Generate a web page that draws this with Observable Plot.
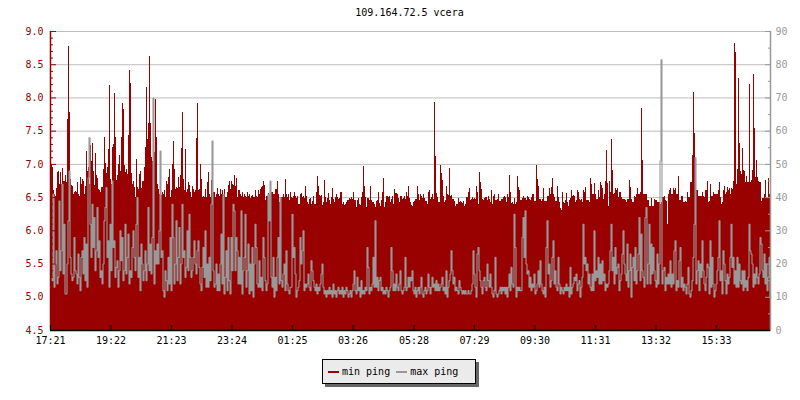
<!DOCTYPE html>
<html>
<head>
<meta charset="utf-8">
<script src="https://cdn.jsdelivr.net/npm/d3@7"></script>
<script src="https://cdn.jsdelivr.net/npm/@observablehq/plot@0.6"></script>
<style>
html,body{margin:0;padding:0;background:#fff;overflow:hidden}
body{width:800px;height:400px;font-family:"DejaVu Sans Mono",monospace;font-size:10px;color:#000}
#title{height:24px;line-height:26px;text-align:center;padding-left:19px;box-sizing:border-box}
#chart svg{display:block}
#legend{position:relative;margin:9px 0 0 322px;width:152px;height:23px;background:#ebebeb;border:1px solid #000;box-shadow:3px 3px 0 #666;display:flex;align-items:center;white-space:pre;box-sizing:content-box}
#legend i{display:inline-block;width:11px;height:2px;margin:0 3px 0 4px}
#legend i:first-child{margin-left:5px}
#legend span{margin-right:2px}
</style>
</head>
<body>
<div id="title"></div>
<div id="chart"></div>
<div id="legend"></div>
<script>
const titleText = "109.164.72.5 vcera";
const seriesNames = ["min ping", "max ping"];
const timeLabels = ["17:21","19:22","21:23","23:24","01:25","03:26","05:28","07:29","09:30","11:31","13:32","15:33"];
const timeMinutes = [0,121,242,363,484,605,727,848,969,1090,1211,1332];
const leftMajor = [4.5,5,5.5,6,6.5,7,7.5,8,8.5,9];
const leftMinor = [4.6,4.7,4.8,4.9,5.1,5.2,5.3,5.4,5.6,5.7,5.8,5.9,6.1,6.2,6.3,6.4,6.6,6.7,6.8,6.9,7.1,7.2,7.3,7.4,7.6,7.7,7.8,7.9,8.1,8.2,8.3,8.4,8.6,8.7,8.8,8.9];
const rightMajor = [0,10,20,30,40,50,60,70,80,90];
const rightMinor = [5,15,25,35,45,55,65,75,85];

const min1 = [7.1,7.0,6.95,6.6,6.55,6.52,6.63,6.88,6.89,6.7,6.88,6.7,6.94,6.75,6.74,6.83,6.72,7.67,8.78,7.78,
6.77,6.68,6.67,6.55,6.58,6.59,6.58,6.73,6.55,6.52,6.8,6.7,6.78,6.75,6.55,6.66,7.19,6.9,6.95,6.7,
7.28,7.05,7.31,6.9,6.68,7.16,6.83,6.79,6.62,6.6,6.58,6.65,6.65,6.92,7.4,7.01,6.86,6.95,7.23,8.18,
6.78,6.7,7.25,7.3,8.06,7.4,6.76,6.83,7.0,7.13,6.9,7.4,7.91,7.82,6.98,6.88,6.92,6.85,7.43,8.41,
8.21,6.86,6.7,6.74,6.65,6.5,7.07,6.65,6.62,6.85,6.89,6.63,6.74,6.74,6.95,7.25,8.15,7.37,7.62,8.62,
7.61,7.1,7.05,6.82,7.18,7.97,7.41,6.7,6.62,6.55,6.57,6.53,6.57,6.55,6.6,6.5,6.74,6.7,6.8,6.92];
const min2 = [6.5,6.6,7.0,7.34,6.92,6.62,6.65,6.63,6.8,6.65,6.83,7.24,7.78,6.78,6.6,7.22,6.58,6.62,6.72,6.68,
6.58,6.5,6.66,6.62,6.58,6.6,7.39,7.91,6.6,6.62,7.0,6.78,6.5,6.52,6.5,6.62,6.5,6.73,6.88,6.55,
6.5,6.76,6.65,6.58,6.58,6.5,6.55,6.64,6.55,6.52,6.62,6.55,6.6,6.55,6.62,6.5,6.5,6.58,6.68,6.74,
6.62,6.75,6.7,6.68,6.83,6.66,6.79,6.5,6.6,6.6,6.54,6.52,6.58,6.5,6.55,6.52,6.5,6.58,6.52,6.55,
6.48,6.52,6.53,6.5,6.5,6.6,6.52,6.5,6.6,6.55,6.62,6.65,6.67,6.75,6.68,6.45,6.52,6.52,6.56,6.5,
6.62,6.58,6.58,6.55,6.55,6.62,6.62,6.75,6.55,6.42,6.47,6.5,6.5,6.55,6.5,6.77,6.55,6.5,6.55,6.45];
const min3 = [6.58,6.5,6.49,6.52,6.58,6.52,6.48,6.52,6.4,6.4,6.55,6.56,6.5,6.52,6.49,6.67,6.51,6.42,6.4,6.47,
6.49,6.39,6.44,6.52,6.4,6.4,6.58,6.82,6.66,6.53,6.52,6.53,6.38,6.42,6.76,6.5,6.42,6.48,6.56,6.45,
6.4,6.5,6.63,6.47,6.42,6.5,6.55,6.5,6.47,6.48,6.58,6.57,6.4,6.43,6.38,6.4,6.42,6.45,6.46,6.49,
6.47,6.5,6.47,6.58,6.46,6.45,6.35,6.46,6.48,6.4,6.38,6.5,6.58,6.97,6.66,6.5,6.35,6.48,6.49,6.45,
6.66,6.45,6.43,6.42,6.4,6.35,6.44,6.46,6.58,6.41,6.36,6.45,6.58,6.79,6.35,6.42,6.52,6.51,6.5,6.52,
6.43,6.47,6.51,6.4,6.62,6.56,6.56,6.55,6.48,6.42,6.52,6.51,6.47,6.49,6.52,6.47,6.57,6.52,6.67,6.48];
const min4 = [6.42,6.38,6.36,6.42,6.44,6.47,6.47,6.67,6.55,6.45,6.55,6.51,6.48,6.55,6.48,6.44,6.44,6.4,6.58,6.61,
6.47,6.5,6.55,6.47,7.93,7.12,6.56,6.5,6.42,6.42,6.99,6.86,6.76,6.51,6.42,6.45,6.67,6.55,6.53,6.94,
6.52,6.53,6.47,6.47,6.44,6.36,6.4,6.4,6.49,6.42,6.44,6.42,6.41,6.44,6.37,6.4,6.5,6.5,6.58,6.64,
6.45,6.47,6.5,6.47,6.49,6.47,6.67,6.57,6.4,6.88,6.72,6.62,6.47,6.45,6.48,6.5,6.5,6.45,6.52,6.47,
6.42,6.6,6.4,6.52,6.55,6.45,6.45,6.47,6.55,6.44,6.44,6.47,6.47,6.5,6.51,6.5,6.42,6.55,6.5,6.84,
6.58,6.41,6.42,6.4,6.48,6.4,6.42,6.82,6.65,6.6,6.45,6.45,6.49,6.52,6.49,6.48,6.45,6.52,6.5,6.47];
const min5 = [6.45,6.5,6.54,6.54,6.44,6.44,6.99,6.78,6.67,6.47,6.47,6.44,6.47,6.64,6.44,6.44,6.44,6.51,6.51,6.63,
6.55,6.65,6.79,6.55,6.5,6.44,6.44,6.67,6.5,6.42,6.33,6.31,6.58,6.43,6.41,6.45,6.56,6.42,6.37,6.45,
6.49,6.61,6.52,6.53,6.52,6.42,6.45,6.6,6.57,6.47,6.45,6.47,6.42,6.6,6.58,6.65,6.45,6.45,6.45,6.42,
6.79,6.69,6.55,6.54,6.71,6.55,6.47,6.47,6.6,6.5,6.73,6.68,6.64,6.47,6.54,6.75,7.21,6.71,6.37,6.74,
6.58,7.38,6.91,6.55,6.56,6.64,6.6,6.64,6.5,6.58,6.58,6.5,6.47,6.47,6.47,6.45,6.42,6.47,6.47,6.76,
6.65,6.47,6.42,6.42,6.52,6.5,6.55,6.64,6.55,6.54,6.58,7.84,7.06,6.55,6.55,6.55,6.55,6.45,6.45,6.37];
const min6 = [6.37,6.48,6.37,6.37,6.47,6.45,6.45,6.42,6.42,6.42,6.4,6.42,6.5,6.5,6.52,6.46,6.44,6.1,6.55,6.6,
6.64,6.55,6.55,6.64,6.6,6.64,6.55,6.55,6.82,6.45,6.45,6.51,6.51,6.42,6.42,6.44,6.42,6.57,6.5,6.5,
6.73,6.73,7.14,8.08,7.46,6.92,6.61,6.61,6.51,6.51,6.52,6.52,6.58,6.52,6.5,6.61,6.61,6.75,6.42,6.44,
6.69,6.52,6.52,6.58,6.55,6.55,6.55,6.55,6.6,6.72,6.5,6.4,6.42,6.6,6.66,6.55,6.58,6.65,6.61,6.63,
6.54,6.64,6.62,6.75,8.82,8.69,6.7,6.92,8.29,7.32,6.9,6.85,7.24,6.91,6.9,6.72,6.82,6.72,6.72,8.2,
6.72,6.76,6.91,8.35,7.54,6.8,7.06,6.8,6.75,6.72,6.72,6.44,6.49,6.49,6.55,6.76,6.48,6.48,6.79,6.55];

const max1 = [16,15,41,13,20,24,14,16,39,18,24,44,17,32,11,11,20,33,48,22,
17,15,16,28,18,17,14,23,16,12,22,24,17,28,15,26,13,46,58,32,
22,38,25,34,18,24,37,22,27,16,18,14,20,33,37,43,22,27,13,32,
18,45,25,27,16,19,21,13,18,30,21,28,15,18,32,17,22,29,14,18,
16,25,30,22,18,32,40,16,22,12,26,20,15,18,24,15,20,37,18,26,
17,28,70,14,24,20,26,20,30,54,22,24,12,10,18,15,12,22,14,28];
const max2 = [12,38,28,14,20,33,15,22,31,14,20,38,22,24,16,19,30,18,35,22,
16,18,22,27,20,17,24,27,19,14,12,19,25,16,30,13,20,13,22,15,
38,57,18,13,14,20,12,17,12,20,29,14,41,11,16,24,12,28,15,11,
28,18,38,36,18,28,24,14,22,14,36,11,18,22,35,13,18,26,11,20,
12,25,10,20,32,25,14,13,21,13,16,12,28,22,15,12,14,41,33,45,
16,13,22,10,16,12,22,28,14,40,15,13,17,20,12,24,14,12,11,13];
const max3 = [13,35,22,25,17,10,12,13,15,28,20,24,30,12,14,13,14,17,13,12,
21,18,15,13,12,14,11,13,12,14,17,20,13,11,12,10,12,11,13,11,
12,10,14,11,12,10,12,13,11,12,11,13,10,12,11,13,12,10,11,12,
10,12,14,18,12,11,16,12,13,10,15,11,12,11,13,12,25,19,11,13,
12,14,22,13,33,13,16,12,15,16,12,13,11,12,11,13,12,10,12,13,
25,18,12,14,12,17,13,12,14,18,12,11,12,13,22,12,13,16,13,16];
const max4 = [15,18,12,11,13,10,12,13,11,13,16,11,10,12,13,11,12,17,13,11,
13,16,13,14,12,15,12,14,12,13,14,16,12,13,11,18,10,13,15,17,
24,18,14,16,12,13,12,11,15,13,12,11,12,11,12,11,11,12,11,11,
12,14,24,17,13,10,23,25,18,15,13,11,15,16,13,12,20,15,13,17,
13,11,10,12,22,11,10,11,12,13,11,13,12,13,11,13,10,13,17,12,
19,14,13,35,25,10,13,12,13,12,12,28,34,22,36,20,17,18,13,16];
const max5 = [12,14,13,17,11,12,14,18,13,21,14,12,11,13,10,25,33,17,20,13,
15,22,27,14,18,13,12,22,14,11,13,12,11,13,12,14,12,13,10,19,
11,13,14,16,15,17,12,14,15,10,13,16,32,20,22,18,20,14,17,13,
12,17,12,30,15,18,16,22,14,20,14,21,15,17,12,14,13,14,18,24,
32,18,22,14,25,17,19,20,12,15,17,23,30,20,17,15,26,13,18,23,
10,19,22,15,25,14,18,23,34,15,29,18,16,13,34,37,14,20,32,14];
const max6 = [26,17,25,18,15,13,23,14,20,51,81.5,14,18,19,12,16,14,17,14,21,
13,17,14,24,27,12,15,13,21,25,13,16,12,14,13,11,14,19,11,10,
12,15,22,32,52,14,18,21,12,20,16,27,18,14,12,16,20,19,11,27,
13,22,14,10,12,14,18,22,33,15,18,11,24,20,15,11,17,14,16,22,
32,19,22,14,18,13,22,13,20,15,14,18,12,18,13,15,12,16,32,24,
23,20,13,17,14,19,16,14,17,28,26,18,16,23,14,20,12,16,22,10];

const leftDomain = [4.5, 9];
const toLeft = v => 4.5 + v / 20;
const fromLeft = y => Math.round((y - 4.5) * 20);
const span = 240;
const build = arrays => {
  const out = [];
  arrays.forEach((a, s) => a.forEach((v, i) => out.push({t: (s + i / a.length) * span, v})));
  const last = arrays[arrays.length - 1];
  out.push({t: arrays.length * span, v: last[last.length - 1]});
  return out;
};
const minData = build([min1, min2, min3, min4, min5, min6]);
const maxData = build([max1, max2, max3, max4, max5, max6]);

const RED = "#990000", GREY = "#999999", GRID = "#bdbdbd";

document.getElementById("title").textContent = titleText;

const plot = Plot.plot({
  width: 800, height: 326,
  marginLeft: 50, marginRight: 30, marginTop: 7, marginBottom: 20,
  style: {fontFamily: '"DejaVu Sans Mono", monospace', fontSize: "10px", background: "transparent"},
  x: {domain: [0, 1440], axis: null},
  y: {domain: leftDomain, axis: null},
  marks: [
    Plot.ruleY(leftMajor, {stroke: GRID, strokeWidth: 1}),
    Plot.areaY(minData, {x: "t", y1: () => leftDomain[0], y2: "v", curve: "step-after", fill: RED, shapeRendering: "crispEdges"}),
    Plot.line(maxData, {x: "t", y: d => toLeft(d.v), curve: "step-after", dx: 0.5, stroke: GREY, strokeWidth: 1.1, strokeLinejoin: "miter"}),
    Plot.ruleX([0], {stroke: RED, strokeWidth: 1.5}),
    Plot.ruleX([1440], {stroke: GREY, strokeWidth: 1.5}),
    Plot.axisY(leftMajor, {anchor: "left", tickSize: -6, tickPadding: 13, stroke: RED, color: RED, fill: RED, tickFormat: d3.format(".1f"), label: null}),
    Plot.axisY(leftMinor, {anchor: "left", tickSize: -3, stroke: RED, tickFormat: null, text: null, label: null}),
    Plot.axisY(rightMajor.map(toLeft), {anchor: "right", tickSize: -6, tickPadding: 11, stroke: GREY, fill: GREY, tickFormat: fromLeft, label: null}),
    Plot.axisY(rightMinor.map(toLeft), {anchor: "right", tickSize: -3, stroke: GREY, tickFormat: null, text: null, label: null}),
    Plot.ruleY([leftDomain[0]], {stroke: "#000", strokeWidth: 1.5}),
    Plot.axisX(timeMinutes, {anchor: "bottom", tickSize: -5, tickPadding: 11, stroke: "#000", fill: "#000", tickFormat: d => timeLabels[timeMinutes.indexOf(d)], label: null})
  ]
});
document.getElementById("chart").appendChild(plot);

const lg = document.getElementById("legend");
seriesNames.forEach((n, i) => {
  const sw = document.createElement("i");
  sw.style.background = i === 0 ? RED : GREY;
  const s = document.createElement("span");
  s.textContent = n;
  lg.append(sw, s);
});
</script>
</body>
</html>
